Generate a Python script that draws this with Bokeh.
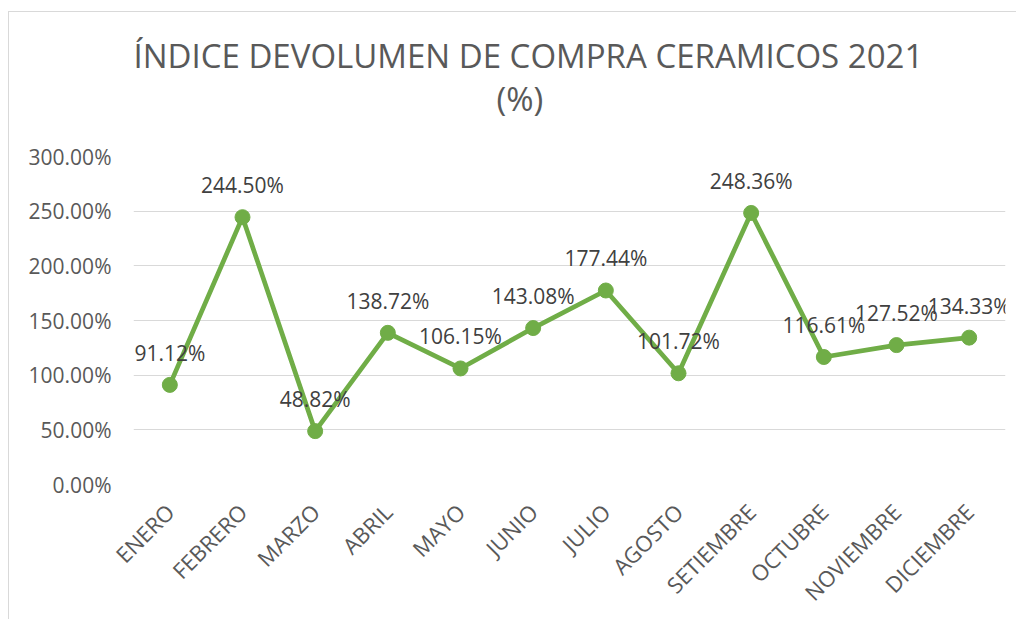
import math
from bokeh.plotting import figure
from bokeh.models import (ColumnDataSource, FactorRange, Range1d, FixedTicker,
                          PrintfTickFormatter, LabelSet, Title)
from bokeh.core.properties import value
from bokeh.embed import file_html
from bokeh.resources import INLINE

months = ["ENERO", "FEBRERO", "MARZO", "ABRIL", "MAYO", "JUNIO", "JULIO",
          "AGOSTO", "SETIEMBRE", "OCTUBRE", "NOVIEMBRE", "DICIEMBRE"]
values = [91.12, 244.50, 48.82, 138.72, 106.15, 143.08, 177.44,
          101.72, 248.36, 116.61, 127.52, 134.33]
value_labels = ["91.12%", "244.50%", "48.82%", "138.72%", "106.15%", "143.08%",
                "177.44%", "101.72%", "248.36%", "116.61%", "127.52%", "134.33%"]
y_ticks = [0, 50, 100, 150, 200, 250, 300]
title_line1 = "ÍNDICE DEVOLUMEN DE COMPRA CERAMICOS 2021"
title_line2 = "(%)"

FONT = "Open Sans"
GREEN = "#70AD47"

src = ColumnDataSource(dict(month=months, value=values, label=value_labels))

p = figure(width=1008, height=608,
           x_range=FactorRange(*months), y_range=Range1d(0, 300),
           output_backend="svg", toolbar_location=None,
           min_border_left=124, min_border_right=12,
           min_border_top=144, min_border_bottom=133)
p.margin = (11, 0, 0, 8)
p.styles = {"border-left": "1px solid #D9D9D9", "border-top": "1px solid #D9D9D9"}

p.outline_line_color = None
p.xgrid.grid_line_color = None
p.ygrid.grid_line_color = "#D9D9D9"
p.ygrid.grid_line_width = 1

p.yaxis.ticker = FixedTicker(ticks=y_ticks)
p.yaxis.formatter = PrintfTickFormatter(format="%.2f%%")
for ax in (p.xaxis[0], p.yaxis[0]):
    ax.axis_line_color = None
    ax.major_tick_line_color = None
    ax.minor_tick_line_color = None
    ax.major_tick_out = 0
    ax.major_tick_in = 0
    ax.major_label_text_font = FONT
    ax.major_label_text_color = "#595959"
p.yaxis.major_label_text_font_size = "21px"
p.xaxis.major_label_text_font_size = "22px"
p.yaxis.major_label_standoff = 22
p.xaxis.major_label_orientation = math.pi / 4
p.xaxis.major_label_standoff = 23

p.line(x="month", y="value", source=src, line_color=GREEN, line_width=4.7,
       line_join="round")
p.scatter(x="month", y="value", source=src, size=15, fill_color=GREEN,
          line_color=GREEN)

labels = LabelSet(x="month", y="value", text="label", source=src, y_offset=32,
                  text_align="center", text_baseline="middle",
                  text_font=value(FONT), text_font_size="21px",
                  text_color="#404040")
p.add_layout(labels)

t2 = Title(text=title_line2, align="left", offset=363, text_font=FONT,
           text_font_size="33px", text_font_style="normal",
           text_color="#595959", standoff=72)
t1 = Title(text=title_line1, align="left", offset=0, text_font=FONT,
           text_font_size="33px", text_font_style="normal",
           text_color="#595959", standoff=-81)
p.add_layout(t2, "above")
p.add_layout(t1, "above")

open("out.html", "w").write(file_html(p, INLINE))
